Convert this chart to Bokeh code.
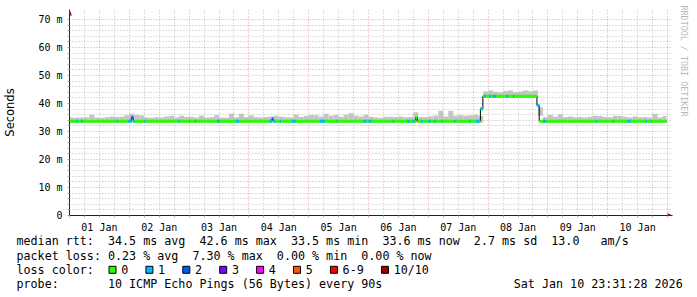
import math
from bokeh.plotting import figure
from bokeh.models import Range1d, FixedTicker, Title, PolyAnnotation
from bokeh.layouts import column
from bokeh.core.properties import value
from bokeh.embed import file_html
from bokeh.resources import INLINE

# ---------------- data ----------------
day_labels = ["01 Jan", "02 Jan", "03 Jan", "04 Jan", "05 Jan",
              "06 Jan", "07 Jan", "08 Jan", "09 Jan", "10 Jan"]
y_tick_vals = [0, 10, 20, 30, 40, 50, 60, 70]          # milliseconds
y_tick_labels = ["0", "10 m", "20 m", "30 m", "40 m", "50 m", "60 m", "70 m"]

# smoke top (ms), one value per 2-hour bin, one row per day
smoke_hi = [
    35.0, 34.9, 35.0, 35.1, 36.0, 35.0, 34.9, 35.1, 35.4, 35.2, 35.3, 35.8,
    36.3, 35.9, 35.7, 35.0, 34.9, 35.1, 35.0, 35.4, 35.6, 35.0, 35.6, 35.2,
    35.3, 35.0, 35.6, 35.0, 35.1, 35.8, 35.0, 34.9, 36.3, 35.1, 36.3, 35.2,
    35.7, 35.1, 35.0, 35.2, 35.4, 35.6, 35.3, 35.1, 35.0, 36.0, 35.2, 35.5,
    35.9, 35.8, 35.4, 36.3, 35.6, 35.9, 35.3, 36.0, 36.5, 35.6, 35.4, 35.9,
    35.3, 35.0, 34.9, 35.3, 35.3, 35.2, 35.4, 35.1, 35.2, 36.9, 35.2, 35.2,
    35.4, 35.7, 37.3, 35.4, 37.3, 35.6, 35.8, 35.6, 35.8, 36.0, 35.5, 44.3,
    44.6, 44.2, 44.0, 44.5, 44.6, 44.1, 44.3, 44.6, 44.4, 44.6, 35.6, 35.2,
    35.9, 35.3, 36.2, 35.2, 35.4, 35.1, 35.2, 35.0, 35.3, 35.6, 35.5, 35.2,
    35.1, 35.6, 35.5, 35.3, 35.0, 35.4, 35.1, 35.2, 35.0, 36.3, 35.0, 35.5,
]
smoke_bin_hours = 2.0

# median rtt as steps: start hour -> value (ms); last entry = end of data
med_t = [0.0, 24.8, 25.6, 81.2, 81.8, 139.0, 139.6, 164.9, 165.9, 187.6, 188.5, 239.6]
med_v = [33.7, 35.0, 33.7, 34.5, 33.7, 35.0, 33.7, 38.1, 42.6, 39.3, 33.7, 33.7]

# packet-loss events: start hour, duration (hours), lost pings of 10
loss_t = [2.7, 4.7, 18.8, 23.6, 24.8, 25.6, 30.0,
          43.6, 48.0, 50.3, 59.2, 66.8,
          80.4, 81.2, 81.8, 84.4, 89.2,
          100.4, 107.2, 118.0, 120.0, 129.6,
          135.6, 137.6, 141.2, 144.0, 146.4,
          149.2, 154.4, 160.4, 163.2, 164.9,
          166.4, 168.4, 170.0, 175.2, 178.0,
          187.6, 190.0, 211.2, 218.0, 224.0,
          231.2, 233.2]
loss_dur = [0.5, 0.6, 0.5, 1.2, 0.8, 0.4, 0.5,
            0.5, 0.4, 0.5, 1.2, 1.2,
            0.8, 0.6, 0.6, 0.5, 1.6,
            2.0, 0.5, 1.2, 1.2, 0.5,
            1.0, 0.8, 0.6, 0.8, 0.6,
            0.5, 0.5, 0.5, 1.2, 1.0,
            0.6, 0.6, 1.2, 0.8, 0.5,
            0.9, 1.2, 0.5, 0.5, 1.2,
            0.5, 0.5]
loss_n = [1, 1, 1, 1, 2, 1, 1,
          1, 1, 1, 1, 1,
          1, 2, 1, 1, 1,
          1, 1, 1, 1, 1,
          1, 1, 1, 1, 1,
          1, 1, 1, 1, 1,
          1, 1, 1, 1, 1,
          1, 1, 1, 1, 1,
          1, 1]

loss_legend_labels = ["0", "1", "2", "3", "4", "5", "6-9", "10/10"]
loss_legend_colors = ["#26ff00", "#00b8ff", "#0059ff", "#7e00ff",
                      "#ff00ff", "#ff5500", "#ff0000", "#a10000"]

stat_rtt = "median rtt:  34.5 ms avg  42.6 ms max  33.5 ms min  33.6 ms now  2.7 ms sd  13.0   am/s"
stat_loss = "packet loss: 0.23 % avg  7.30 % max  0.00 % min  0.00 % now"
loss_title = "loss color:"
probe_text = "probe:       10 ICMP Echo Pings (56 Bytes) every 90s"
stamp_text = "Sat Jan 10 23:31:28 2026"
side_text = "RRDTOOL / TOBI OETIKER"

# ---------------- layout ----------------
W = 697
H_MAIN = 235
H_LEG = 297 - H_MAIN
LEFT, RIGHT_PAD, TOP_PAD, BOTTOM_PAD = 67, 25, 9, 20
PX_H = 2.5     # pixels per hour
PX_MS = 2.8    # pixels per ms
frame_w = W - LEFT - RIGHT_PAD
frame_h = H_MAIN - TOP_PAD - BOTTOM_PAD
x_end = frame_w / PX_H
y_end = frame_h / PX_MS

MONO = "DejaVu Sans Mono"
MAJOR_GRID = "#de4f4f"
MINOR_GRID = "#8f8f8f"
NBSP = "\u00a0"


def keep_spaces(s):
    return s.replace(" ", NBSP)


p = figure(width=W, height=H_MAIN, x_range=Range1d(0, x_end), y_range=Range1d(0, y_end),
           output_backend="svg", toolbar_location=None,
           min_border_left=LEFT, min_border_right=RIGHT_PAD,
           min_border_top=TOP_PAD, min_border_bottom=BOTTOM_PAD)
p.frame_align = False
p.background_fill_color = "#ffffff"
p.border_fill_color = "#ffffff"
p.outline_line_color = None

n_days = len(day_labels)
day_h = 24

# grids
p.xgrid.ticker = FixedTicker(ticks=[d * day_h for d in range(n_days + 1)],
                             minor_ticks=[h for h in range(0, n_days * day_h + 1, 6) if h % day_h])
p.ygrid.ticker = FixedTicker(ticks=y_tick_vals,
                             minor_ticks=[v for v in range(0, 71, 2) if v % 10])
for g in (p.xgrid, p.ygrid):
    g.grid_line_color = MAJOR_GRID
    g.grid_line_alpha = 0.55
    g.grid_line_dash = "1 2"
    g.minor_grid_line_color = MINOR_GRID
    g.minor_grid_line_alpha = 0.6
    g.minor_grid_line_dash = "1 2"

# x axis
xa = p.xaxis[0]
xa.ticker = FixedTicker(ticks=[d * day_h + 12 for d in range(n_days)],
                        minor_ticks=[h for h in range(0, n_days * day_h + 1, 6) if h % 24 != 12])
xa.major_label_overrides = {d * day_h + 12: lab for d, lab in enumerate(day_labels)}
xa.major_label_text_font = MONO
xa.major_label_text_font_size = "10px"
xa.major_label_text_color = "#000000"
xa.major_label_standoff = 4
xa.major_tick_out = 2
xa.major_tick_in = 0
xa.minor_tick_out = 2
xa.minor_tick_in = 0
xa.major_tick_line_color = "#b0b0b0"
xa.minor_tick_line_color = "#b0b0b0"
xa.axis_line_color = "#202020"

# y axis
ya = p.yaxis[0]
ya.ticker = FixedTicker(ticks=y_tick_vals, minor_ticks=[v for v in range(0, 71, 2) if v % 10])
ya.major_label_overrides = dict(zip(y_tick_vals, y_tick_labels))
ya.major_label_text_font = MONO
ya.major_label_text_font_size = "10px"
ya.major_label_text_color = "#000000"
ya.major_label_standoff = 5
ya.major_tick_out = 2
ya.major_tick_in = 0
ya.minor_tick_out = 2
ya.minor_tick_in = 0
ya.major_tick_line_color = "#e09090"
ya.minor_tick_line_color = "#b0b0b0"
ya.axis_line_color = "#3a1c1c"
ya.axis_label = "Seconds"
ya.axis_label_text_font = "DejaVu Sans"
ya.axis_label_text_font_size = "11.5px"
ya.axis_label_text_font_style = "normal"
ya.axis_label_text_color = "#000000"
ya.axis_label_standoff = 18


def median_at(t):
    val = med_v[0]
    for tt, vv in zip(med_t, med_v):
        if tt <= t + 1e-9:
            val = vv
    return val


data_end = med_t[-1]
band = 1.5 / PX_MS          # half thickness of the loss-coloured median band
smoke_below = 0.6

# smoke
s_left = [i * smoke_bin_hours for i in range(len(smoke_hi))]
s_right = [min(l + smoke_bin_hours, data_end) for l in s_left]
s_bottom = [median_at(l) - smoke_below for l in s_left]
p.quad(left=s_left, right=s_right, bottom=s_bottom, top=smoke_hi,
       fill_color="#c4c4c4", line_color=None)

# black median line
p.step(x=med_t, y=med_v, mode="after", line_color="#000000", line_width=1)

# green (0 loss) median band
m_left = med_t[:-1]
m_right = med_t[1:]
m_val = med_v[:-1]
p.quad(left=m_left, right=m_right,
       bottom=[v - band for v in m_val], top=[v + band for v in m_val],
       fill_color=loss_legend_colors[0], line_color=None)

# loss-coloured pieces
l_left = loss_t
l_right = [t + d for t, d in zip(loss_t, loss_dur)]
l_val = [median_at(t + 0.05) for t in loss_t]
l_col = [loss_legend_colors[n] for n in loss_n]
p.quad(left=l_left, right=l_right,
       bottom=[v - band for v in l_val], top=[v + band for v in l_val],
       fill_color=l_col, line_color=None)

# axis arrows (kept inside the frame)
ah = 2.5
p.add_layout(PolyAnnotation(xs=[-ah / PX_H, ah / PX_H, 0], ys=[y_end - 6 / PX_MS, y_end - 6 / PX_MS, y_end],
                            fill_color="#7f1f1f", fill_alpha=1, line_color=None))
p.add_layout(PolyAnnotation(xs=[x_end - 5 / PX_H, x_end - 5 / PX_H, x_end], ys=[ah / PX_MS, -ah / PX_MS, 0],
                            fill_color="#7f1f1f", fill_alpha=1, line_color=None))

# vertical watermark on the right side
p.add_layout(Title(text=side_text, align="left", text_font=MONO, text_font_size="8.4px",
                   text_font_style="normal", text_color="#b8b8b8", standoff=13, offset=-4), "right")

# ---------------- legend strip ----------------
q = figure(width=W, height=H_LEG, x_range=Range1d(0, W), y_range=Range1d(H_LEG, 0),
           output_backend="svg", toolbar_location=None, min_border=0)
q.frame_align = False
q.axis.visible = False
q.grid.visible = False
q.outline_line_color = None
q.background_fill_color = "#ffffff"
q.border_fill_color = "#ffffff"

CW = 7.1
X0 = 16
row_y = [240.7 - H_MAIN, 255 - H_MAIN, 269.3 - H_MAIN, 283.3 - H_MAIN]
q.text(x=[X0, X0, X0, X0, 513.3], y=[row_y[0], row_y[1], row_y[2], row_y[3], row_y[3]],
       text=[keep_spaces(s) for s in (stat_rtt, stat_loss, loss_title, probe_text, stamp_text)],
       text_font=value(MONO), text_font_size="11.7px", text_color="#000000",
       text_baseline="middle", text_align="left")

bx = []
lx = []
cur = X0 + 13 * CW
for lab in loss_legend_labels:
    bx.append(cur + 3.7)
    lx.append(cur + 12.4)
    cur += 15.6 + CW * (len(lab) + 2)
q.rect(x=bx, y=[row_y[2]] * len(bx), width=7, height=7,
       fill_color=loss_legend_colors, line_color="#000000", line_width=1)
q.text(x=lx, y=[row_y[2]] * len(lx), text=loss_legend_labels,
       text_font=value(MONO), text_font_size="11.7px", text_color="#000000",
       text_baseline="middle", text_align="left")

layout = column(p, q, spacing=0)
open("out.html", "w").write(file_html(layout, INLINE))
